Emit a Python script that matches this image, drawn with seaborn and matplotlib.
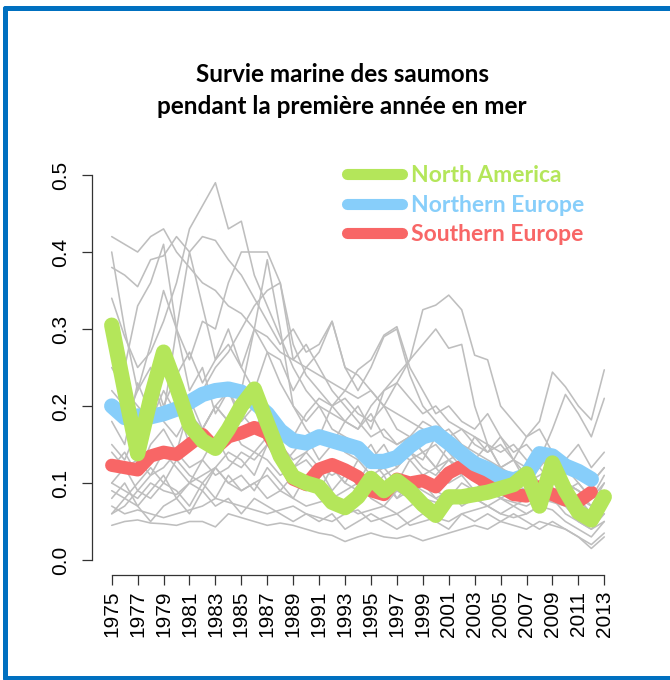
import numpy as np
import pandas as pd
import matplotlib
matplotlib.use("Agg")
import matplotlib.pyplot as plt
from matplotlib.lines import Line2D
import seaborn as sns

years = list(range(1975, 2014))
nan = np.nan

# thick regional means
north_america = [0.305, 0.22, 0.138, 0.21, 0.27, 0.225, 0.175, 0.155, 0.145, 0.17,
                 0.20, 0.222, 0.178, 0.135, 0.108, 0.10, 0.095, 0.075, 0.068, 0.082,
                 0.106, 0.09, 0.103, 0.09, 0.072, 0.058, 0.082, 0.082, 0.085, 0.088,
                 0.093, 0.098, 0.112, 0.07, 0.126, 0.09, 0.062, 0.052, 0.082]
northern_europe = [0.20, 0.185, 0.187, 0.186, 0.19, 0.196, 0.205, 0.215, 0.22, 0.222,
                   0.218, 0.205, 0.19, 0.168, 0.155, 0.152, 0.16, 0.155, 0.15, 0.145,
                   0.128, 0.128, 0.133, 0.148, 0.16, 0.165, 0.152, 0.138, 0.125, 0.118,
                   0.108, 0.104, 0.11, 0.138, 0.135, 0.122, 0.115, 0.105, nan]
southern_europe = [0.123, 0.12, 0.117, 0.135, 0.14, 0.137, 0.15, 0.163, 0.145, 0.16,
                   0.165, 0.172, 0.165, 0.138, 0.105, 0.098, 0.118, 0.124, 0.117, 0.108,
                   0.09, 0.085, 0.105, 0.10, 0.103, 0.095, 0.113, 0.122, 0.11, 0.10,
                   0.095, 0.085, 0.083, 0.095, 0.085, 0.078, 0.076, 0.088, nan]

# individual stocks (grey)
gray_01 = [0.42, 0.41, 0.40, 0.42, 0.43, 0.40, 0.38, 0.36, 0.35, 0.33,
           0.32, 0.30, 0.29, 0.27, 0.26, 0.25, 0.24, 0.23, 0.22, 0.21,
           0.22, 0.20, 0.19, 0.18, 0.17, 0.16, 0.17, 0.15, 0.14, 0.13,
           0.12, 0.13, 0.11, 0.10, 0.11, 0.10, 0.09, 0.08, 0.09]
gray_02 = [0.34, 0.29, 0.25, 0.27, 0.31, 0.36, 0.43, 0.46, 0.49, 0.43,
           0.44, 0.37, 0.33, 0.29, 0.25, 0.22, 0.20, 0.19, 0.18, 0.17,
           0.19, 0.16, 0.15, 0.16, 0.14, 0.15, 0.13, 0.12, 0.13, 0.11,
           0.10, 0.11, 0.10, 0.12, 0.10, 0.09, 0.10, 0.08, 0.09]
gray_03 = [0.38, 0.37, 0.355, 0.39, 0.395, 0.42, 0.40, 0.42, 0.415, 0.39,
           0.37, 0.34, 0.31, 0.28, 0.30, 0.27, 0.28, 0.31, 0.25, 0.24,
           0.22, 0.20, 0.23, 0.21, 0.19, 0.20, 0.18, 0.17, 0.16, 0.15,
           0.14, 0.15, 0.13, 0.12, 0.14, 0.12, 0.11, 0.10, 0.12]
gray_04 = [0.40, 0.30, 0.22, 0.28, 0.35, 0.30, 0.26, 0.31, 0.30, 0.36,
           0.40, 0.40, 0.40, 0.36, 0.28, 0.24, 0.22, 0.20, 0.21, 0.19,
           0.18, 0.20, 0.17, 0.16, 0.18, 0.17, 0.15, 0.14, 0.13, 0.15,
           0.12, 0.11, 0.12, 0.10, 0.11, 0.10, 0.09, 0.07, 0.10]
gray_05 = [0.25, 0.22, 0.20, 0.18, 0.22, 0.19, 0.21, 0.17, 0.20, 0.18,
           0.22, 0.30, 0.39, 0.30, 0.20, 0.17, 0.15, 0.16, 0.14, 0.13,
           0.15, 0.12, 0.14, 0.13, 0.11, 0.12, 0.10, 0.11, 0.09, 0.10,
           0.08, 0.09, 0.08, 0.10, 0.09, 0.08, 0.06, 0.05, 0.07]
gray_06 = [0.20, 0.18, 0.22, 0.25, 0.20, 0.24, 0.27, 0.23, 0.26, 0.28,
           0.25, 0.30, 0.27, 0.26, 0.22, 0.25, 0.27, 0.31, 0.25, 0.22,
           0.25, 0.29, 0.30, 0.24, 0.20, 0.18, 0.16, 0.17, 0.15, 0.14,
           0.16, 0.13, 0.12, 0.13, 0.12, 0.10, 0.09, 0.08, 0.10]
gray_07 = [0.15, 0.13, 0.17, 0.20, 0.18, 0.16, 0.19, 0.17, 0.20, 0.22,
           0.19, 0.17, 0.20, 0.18, 0.16, 0.19, 0.21, 0.20, 0.18, 0.17,
           0.20, 0.22, 0.23, 0.26, 0.325, 0.331, 0.344, 0.325, 0.266, 0.26,
           0.20, 0.18, 0.16, 0.17, 0.14, 0.13, 0.15, 0.12, 0.14]
gray_08 = [0.10, 0.12, 0.09, 0.11, 0.14, 0.12, 0.10, 0.13, 0.11, 0.12,
           0.14, 0.13, 0.15, 0.12, 0.14, 0.16, 0.13, 0.15, 0.18, 0.20,
           0.17, 0.22, 0.24, 0.26, 0.28, 0.30, 0.275, 0.28, 0.20, 0.15,
           0.12, 0.13, 0.10, 0.11, 0.12, 0.09, 0.08, 0.07, 0.09]
gray_09 = [0.08, 0.10, 0.07, 0.09, 0.11, 0.08, 0.10, 0.09, 0.12, 0.10,
           0.11, 0.09, 0.12, 0.10, 0.08, 0.11, 0.09, 0.12, 0.10, 0.13,
           0.11, 0.12, 0.10, 0.13, 0.14, 0.12, 0.15, 0.13, 0.16, 0.14,
           0.15, 0.13, 0.16, 0.18, 0.244, 0.225, 0.20, 0.182, 0.247]
gray_10 = [0.06, 0.07, 0.09, 0.08, 0.10, 0.09, 0.07, 0.10, 0.08, 0.11,
           0.09, 0.10, 0.08, 0.09, 0.11, 0.10, 0.12, 0.09, 0.11, 0.10,
           0.13, 0.11, 0.12, 0.14, 0.13, 0.16, 0.14, 0.12, 0.13, 0.11,
           0.12, 0.10, 0.11, 0.13, 0.17, 0.215, 0.19, 0.16, 0.21]
gray_11 = [0.045, 0.05, 0.052, 0.048, 0.047, 0.045, 0.05, 0.05, 0.043, 0.06,
           0.055, 0.05, 0.045, 0.048, 0.045, 0.04, 0.035, 0.032, 0.024, 0.03,
           0.035, 0.03, 0.028, 0.032, 0.025, 0.03, 0.035, 0.04, 0.045, 0.04,
           0.05, 0.045, 0.04, 0.05, 0.045, 0.04, 0.03, 0.02, 0.035]
gray_12 = [0.07, 0.06, 0.065, 0.06, 0.055, 0.06, 0.065, 0.07, 0.08, 0.075,
           0.07, 0.065, 0.06, 0.065, 0.07, 0.06, 0.055, 0.05, 0.06, 0.065,
           0.05, 0.055, 0.06, 0.045, 0.05, 0.055, 0.05, 0.06, 0.065, 0.07,
           0.06, 0.055, 0.06, 0.07, 0.065, 0.05, 0.04, 0.03, 0.05]
gray_13 = [0.10, 0.09, 0.08, 0.10, 0.09, 0.085, 0.10, 0.11, 0.12, 0.10,
           0.09, 0.10, 0.11, 0.09, 0.08, 0.07, 0.075, 0.08, 0.07, 0.06,
           0.065, 0.07, 0.06, 0.07, 0.08, 0.075, 0.07, 0.08, 0.085, 0.09,
           0.08, 0.075, 0.07, 0.08, 0.075, 0.07, 0.06, 0.05, 0.06]
gray_14 = [0.14, 0.12, 0.13, 0.11, 0.12, 0.14, 0.12, 0.13, 0.16, 0.13,
           0.12, 0.14, 0.13, 0.11, 0.12, 0.09, 0.10, 0.08, 0.09, 0.10,
           0.08, 0.07, 0.09, 0.08, 0.10, 0.09, 0.08, 0.10, 0.09, 0.11,
           0.10, 0.09, 0.08, 0.10, 0.09, 0.10, 0.08, 0.06, 0.09]
gray_15 = [0.18, 0.15, 0.23, 0.19, 0.26, 0.20, 0.15, 0.17, 0.20, 0.18,
           0.15, 0.14, 0.16, 0.14, 0.12, 0.13, 0.11, 0.12, 0.10, 0.09,
           0.11, 0.10, 0.08, 0.10, 0.09, 0.08, 0.07, 0.09, 0.08, 0.07,
           0.08, 0.07, 0.08, 0.09, 0.08, 0.07, 0.05, 0.04, 0.06]
gray_16 = [0.22, 0.20, 0.17, 0.24, 0.19, 0.30, 0.40, 0.33, 0.26, 0.30,
           0.25, 0.22, 0.27, 0.23, 0.20, 0.18, 0.20, 0.17, 0.16, 0.15,
           0.13, 0.15, 0.12, 0.14, 0.12, 0.11, 0.13, 0.11, 0.12, 0.10,
           0.11, 0.10, 0.09, 0.10, 0.11, 0.09, 0.08, 0.06, 0.08]
gray_17 = [0.30, 0.25, 0.33, 0.36, 0.41, 0.30, 0.22, 0.25, 0.19, 0.22,
           0.18, 0.20, 0.17, 0.15, 0.13, 0.14, 0.12, 0.11, 0.12, 0.10,
           0.09, 0.11, 0.08, 0.09, 0.10, 0.08, 0.09, 0.07, 0.08, 0.07,
           0.06, 0.07, 0.06, 0.07, 0.08, 0.06, 0.05, 0.04, 0.05]
gray_18 = [0.12, 0.14, 0.11, 0.15, 0.17, 0.14, 0.20, 0.22, 0.25, 0.27,
           0.30, 0.33, 0.35, 0.36, 0.26, 0.28, 0.25, 0.22, 0.20, 0.18,
           0.16, 0.17, 0.15, 0.16, 0.14, 0.12, 0.13, 0.14, 0.11, 0.12,
           0.10, 0.11, 0.12, 0.10, 0.11, 0.12, 0.10, 0.08, 0.11]
gray_19 = [0.09, 0.08, 0.10, 0.12, 0.10, 0.13, 0.11, 0.10, 0.12, 0.14,
           0.13, 0.11, 0.15, 0.13, 0.12, 0.14, 0.16, 0.20, 0.22, 0.247,
           0.26, 0.292, 0.303, 0.25, 0.22, 0.19, 0.20, 0.18, 0.17, 0.19,
           0.16, 0.14, 0.15, 0.13, 0.14, 0.12, 0.11, 0.10, 0.12]
gray_20 = [0.06, 0.08, 0.07, 0.05, 0.07, 0.08, 0.06, 0.09, 0.07, 0.08,
           0.06, 0.08, 0.07, 0.06, 0.05, 0.06, 0.05, 0.06, 0.04, 0.05,
           0.06, 0.05, 0.04, 0.05, 0.06, 0.05, 0.04, 0.06, 0.05, 0.06,
           0.05, 0.06, 0.05, 0.04, 0.05, 0.04, 0.03, 0.015, 0.03]

grays = [gray_01, gray_02, gray_03, gray_04, gray_05, gray_06, gray_07,
         gray_08, gray_09, gray_10, gray_11, gray_12, gray_13, gray_14,
         gray_15, gray_16, gray_17, gray_18, gray_19, gray_20]
gray_long = pd.concat([pd.DataFrame({"year": years, "value": g, "stock": i})
                       for i, g in enumerate(grays)], ignore_index=True)

regions = ["North America", "Northern Europe", "Southern Europe"]
colors = ["#B4E65A", "#87CEFA", "#F86666"]

sns.set_theme(style="white")
plt.rcParams["font.family"] = ["Liberation Sans", "DejaVu Sans"]
plt.rcParams["text.color"] = "black"

fig = plt.figure(figsize=(6.7, 6.8), dpi=100)
ax = fig.add_axes([92 / 670, 1 - 575.4 / 680, 532 / 670, 415.8 / 680])

sns.lineplot(data=gray_long, x="year", y="value", units="stock", estimator=None,
             color="#BEBEBE", linewidth=1.15, ax=ax, legend=False)
sns.lineplot(x=years, y=southern_europe, color=colors[2], linewidth=9.5,
             solid_capstyle="round", solid_joinstyle="round", ax=ax)
sns.lineplot(x=years, y=northern_europe, color=colors[1], linewidth=11,
             solid_capstyle="round", solid_joinstyle="round", ax=ax)
sns.lineplot(x=years, y=north_america, color=colors[0], linewidth=11,
             solid_capstyle="round", solid_joinstyle="round", ax=ax)

ax.set_xlim(1973.48, 2014.52)
ax.set_ylim(-0.02, 0.52)
ax.set_xlabel("")
ax.set_ylabel("")
ax.set_xticks(range(1975, 2014, 2))
yt = [0.0, 0.1, 0.2, 0.3, 0.4, 0.5]
ax.set_yticks(yt)
ax.set_yticklabels([f"{v:.1f}" for v in yt])
for s in ["top", "right"]:
    ax.spines[s].set_visible(False)
ax.spines["left"].set_bounds(0, 0.5)
ax.spines["bottom"].set_bounds(1975, 2013)
for s in ["left", "bottom"]:
    ax.spines[s].set_color("#333333")
    ax.spines[s].set_linewidth(0.9)
ax.tick_params(axis="both", direction="out", length=7, width=0.9, color="#333333",
               labelcolor="black", labelsize=15, left=True, bottom=True)
ax.tick_params(axis="y", labelrotation=90, pad=9)
ax.tick_params(axis="x", labelrotation=90, pad=4)
for lab in ax.get_yticklabels():
    lab.set_va("center")

handles = [Line2D([], [], color=c, linewidth=8) for c in colors]
leg = ax.legend(handles, regions, loc="upper left",
                bbox_to_anchor=(347 / 670, 1 - 165 / 680),
                bbox_transform=fig.transFigure, frameon=False,
                prop={"family": "Lato", "weight": "bold", "size": 16.5},
                handlelength=2.4, handletextpad=0.4, labelspacing=0.38,
                borderpad=0, borderaxespad=0)
for t, c in zip(leg.get_texts(), colors):
    t.set_color(c)

fig.text(342 / 670, 1 - 75 / 680, "Survie marine des saumons", ha="center",
         va="center", fontsize=17.5, fontweight="bold", family="Lato", color="black")
fig.text(342 / 670, 1 - 107 / 680, "pendant la première année en mer",
         ha="center", va="center", fontsize=17.5, fontweight="bold", family="Lato",
         color="black")

# blue frame
frame = "#0070C0"
fig.add_artist(Line2D([4.5 / 670, 1], [1 - 7.5 / 680, 1 - 7.5 / 680],
                      transform=fig.transFigure, color=frame, linewidth=3.6))
fig.add_artist(Line2D([4.5 / 670, 4.5 / 670], [1 - 7.5 / 680, 1 - 678 / 680],
                      transform=fig.transFigure, color=frame, linewidth=3.6))
fig.add_artist(Line2D([4.5 / 670, 1], [1 - 678 / 680, 1 - 678 / 680],
                      transform=fig.transFigure, color=frame, linewidth=3.6))

fig.savefig("out.png", dpi=100)
